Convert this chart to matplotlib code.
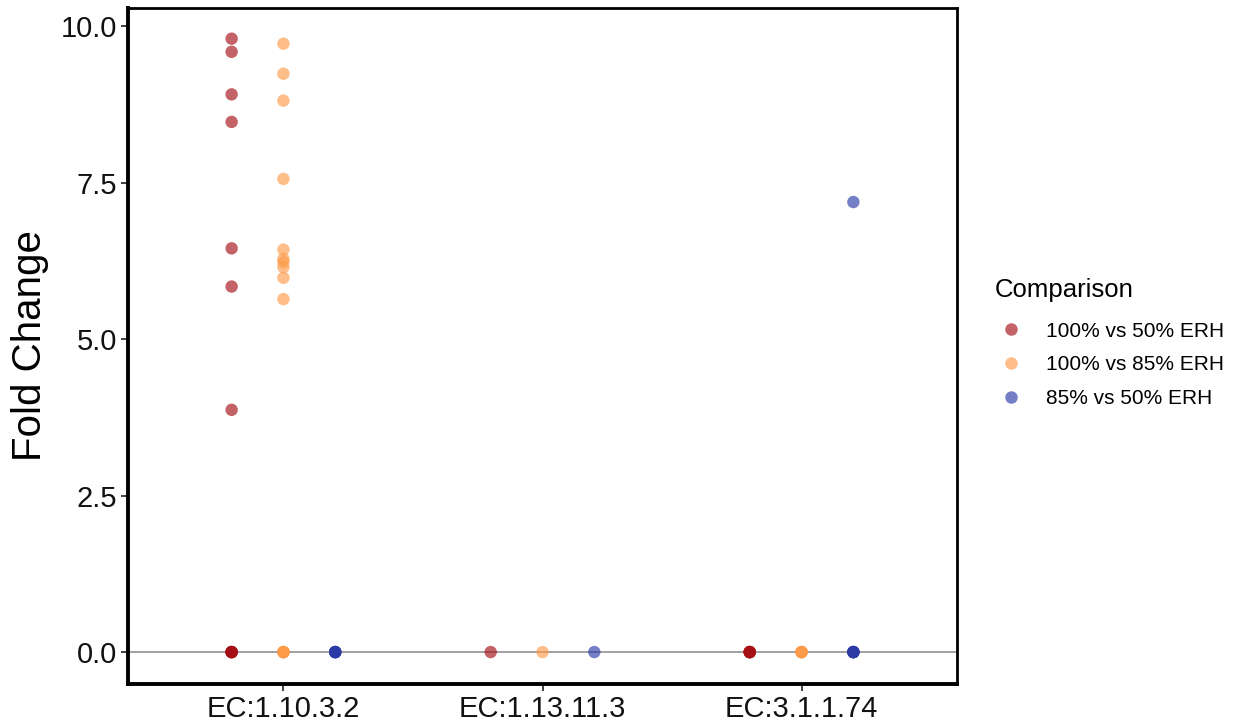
import matplotlib.pyplot as plt
from matplotlib.lines import Line2D

plt.rcParams["font.family"] = ["Liberation Sans", "DejaVu Sans"]

CATEGORIES = ["EC:1.10.3.2", "EC:1.13.11.3", "EC:3.1.1.74"]
COMPARISONS = ["100% vs 50% ERH", "100% vs 85% ERH", "85% vs 50% ERH"]
COLORS = ["#a50f15", "#fd9b4a", "#2b3aa6"]

# fold change values per comparison, per category (zeros overlap on the line)
RED_VALUES = [
    [9.80, 9.59, 8.91, 8.47, 6.45, 5.84, 3.87, 0, 0, 0, 0, 0],
    [0],
    [0, 0, 0, 0, 0],
]
ORANGE_VALUES = [
    [9.72, 9.24, 8.81, 7.56, 6.43, 6.28, 6.23, 6.15, 5.98, 5.64, 0, 0, 0, 0, 0],
    [0],
    [0, 0, 0, 0, 0],
]
BLUE_VALUES = [
    [0, 0, 0, 0, 0],
    [0],
    [7.19, 0, 0, 0, 0, 0],
]
SERIES = [RED_VALUES, ORANGE_VALUES, BLUE_VALUES]

Y_TICKS = [0.0, 2.5, 5.0, 7.5, 10.0]


def main() -> None:
    fig = plt.figure(figsize=(12.41, 7.23), dpi=100)
    ax = fig.add_axes([128 / 1241, 39 / 723, 829 / 1241, 676 / 723])

    ax.axhline(0, color="#9a9a9a", lw=1.3, zorder=1)

    dodge = 0.2
    for s, (vals, color) in enumerate(zip(SERIES, COLORS)):
        offset = (s - 1) * dodge
        for c, cat_vals in enumerate(vals):
            xs = [c + 1 + offset] * len(cat_vals)
            ax.scatter(xs, cat_vals, s=80, color=color, alpha=0.65,
                       edgecolors="none", zorder=3)

    ax.set_xlim(0.4, 3.6)
    ax.set_ylim(-0.51, 10.29)
    ax.set_xticks([1, 2, 3])
    ax.set_xticklabels(CATEGORIES)
    ax.set_yticks(Y_TICKS)
    ax.set_yticklabels([f"{t:.1f}" for t in Y_TICKS])
    ax.tick_params(labelsize=21, length=5, width=1.3, color="#333333",
                   labelcolor="#111111", pad=3)
    ax.set_ylabel("Fold Change", fontsize=29, labelpad=8)

    for side in ["top", "right"]:
        ax.spines[side].set_linewidth(2)
    for side in ["left", "bottom"]:
        ax.spines[side].set_linewidth(2.8)

    handles = [
        Line2D([], [], marker="o", linestyle="none", markersize=9,
               markerfacecolor=c, markeredgecolor="none", alpha=0.65)
        for c in COLORS
    ]
    leg = fig.legend(handles, COMPARISONS, title="Comparison",
                     loc="center left", bbox_to_anchor=(976 / 1241, 1 - 343 / 723),
                     frameon=False, fontsize=15, title_fontsize=18.5,
                     handlelength=1.6, handletextpad=0.85, labelspacing=0.7,
                     alignment="left")
    leg._legend_box.sep = 14

    fig.savefig("out.png", dpi=100, facecolor="white")
    plt.close(fig)


if __name__ == "__main__":
    main()
